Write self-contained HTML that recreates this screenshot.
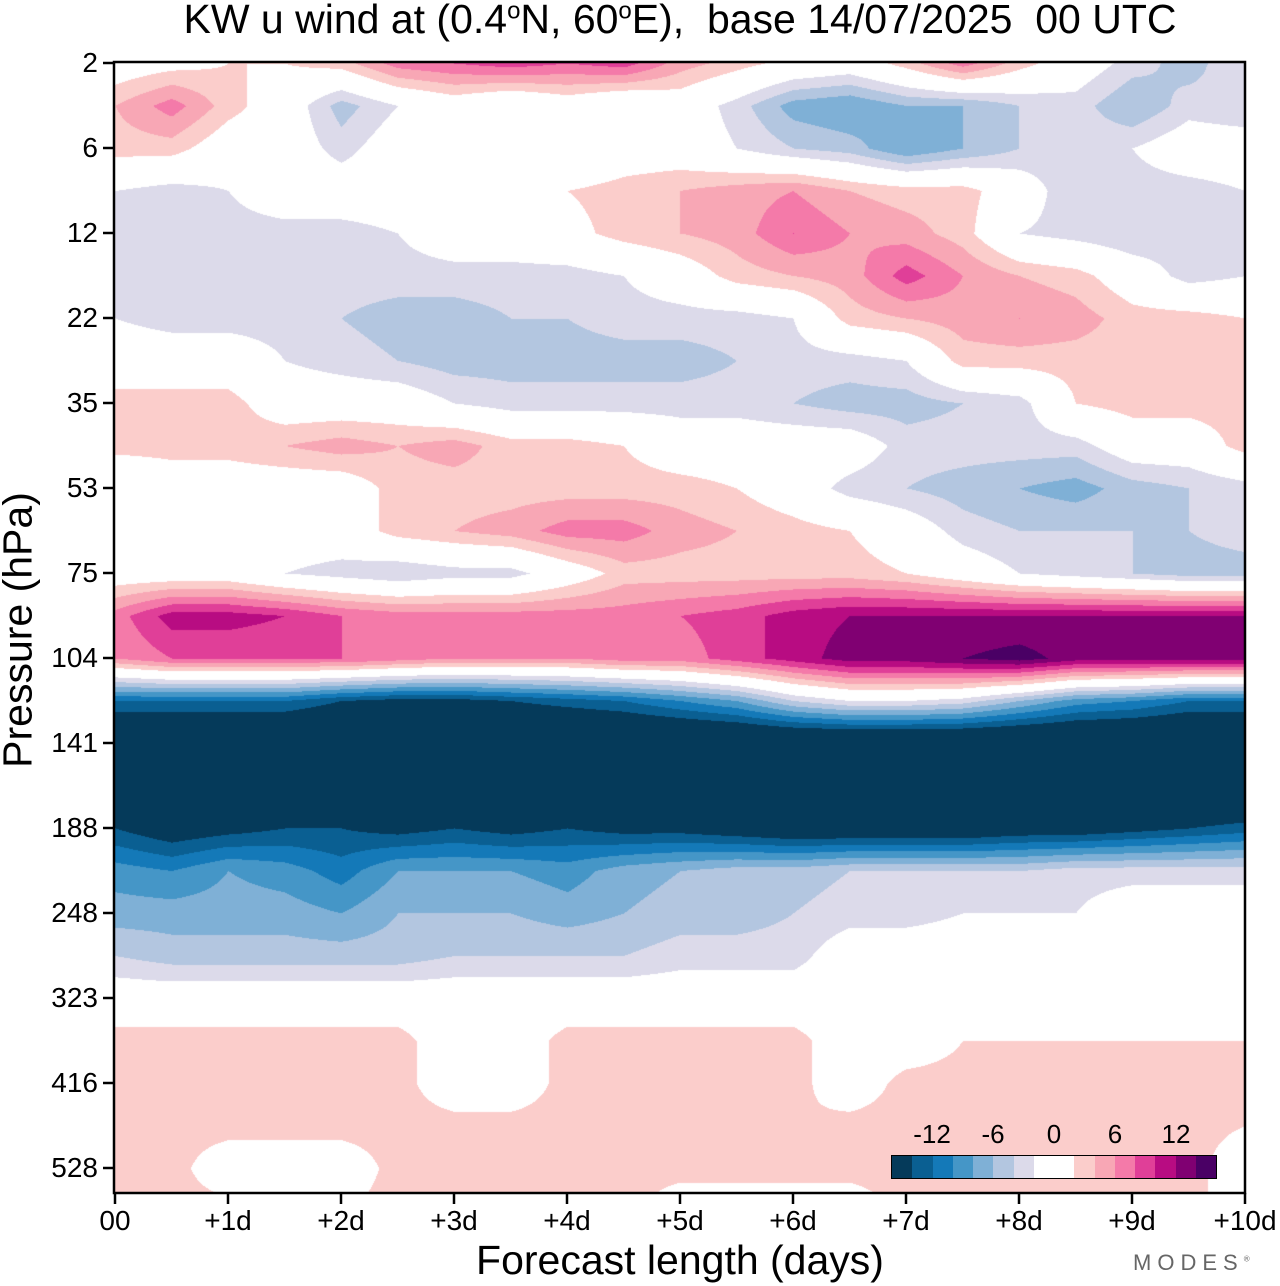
<!DOCTYPE html>
<html><head><meta charset="utf-8">
<style>
body{margin:0;background:#fff;width:1280px;height:1286px;position:relative;overflow:hidden;font-family:"Liberation Sans",sans-serif;}
.t{position:absolute;color:#000;white-space:nowrap;}
.yl{position:absolute;font-size:28px;right:1182px;transform:translateY(-50%);}
.xl{position:absolute;font-size:28px;top:1205px;transform:translateX(-50%);}
</style></head><body>
<div class="t" style="left:0;width:1360px;text-align:center;top:-4px;font-size:41px;">KW u wind at (0.4<sup style="font-size:24px">o</sup>N, 60<sup style="font-size:24px">o</sup>E),&nbsp; base 14/07/2025&nbsp; 00 UTC</div>
<canvas id="c" width="1131" height="1131" style="position:absolute;left:114px;top:62px"></canvas>
<svg id="ax" width="1280" height="1286" style="position:absolute;left:0;top:0"></svg>
<div id="labels"></div>
<div class="t" style="left:18px;top:630px;font-size:41px;transform:translate(-50%,-50%) rotate(-90deg);transform-origin:center;">Pressure (hPa)</div>
<div class="t" style="left:680px;top:1237px;font-size:41px;transform:translateX(-50%);">Forecast length (days)</div>
<div class="t" style="left:1133px;top:1250px;font-size:22px;letter-spacing:6px;color:#666;">MODES<sup style="font-size:8px;letter-spacing:0">®</sup></div>
<div style="position:absolute;left:891px;top:1155px;width:324px;height:22px;border:1.5px solid #000;display:flex;" id="cb"></div>
<div class="t" style="left:932px;top:1119px;font-size:26px;transform:translateX(-50%)">-12</div>
<div class="t" style="left:993px;top:1119px;font-size:26px;transform:translateX(-50%)">-6</div>
<div class="t" style="left:1054px;top:1119px;font-size:26px;transform:translateX(-50%)">0</div>
<div class="t" style="left:1115px;top:1119px;font-size:26px;transform:translateX(-50%)">6</div>
<div class="t" style="left:1176px;top:1119px;font-size:26px;transform:translateX(-50%)">12</div>
<script>
const xTicks=["00","+1d","+2d","+3d","+4d","+5d","+6d","+7d","+8d","+9d","+10d"];
const yTicks=["2","6","12","22","35","53","75","104","141","188","248","323","416","528"];
const levels=[-16,-14,-12,-10,-8,-6,-4,-2,0,2,4,6,8,10,12,14,16];
const colors=["#053a5a","#0a5f92","#1479b8","#4596c7","#7fb0d6","#b3c6e0","#dcdaea","#ffffff","#ffffff","#fbcdcb","#f8a7b5","#f47aa9","#e03f98","#b80c82","#800072","#4a0065"];
// rows: half-tick spacing from top (2 hPa) down; columns: every half day
const u=[
[0,1,2,2,3,7,8,9,8,9,5,3,1,0,3,7,3,0,-3,-5,-2],
[4,7,3,0,-5,-2,0,-2,0,-2,0,-3,-7,-8,-6,-6,-4,-3,-6,-3,-4],
[3,3,0,0,-3,0,-2,0,-2,0,0,-2,-4,-5,-8,-6,-4,-3,-2,0,0],
[-2,-3,-2,0,0,0,0,0,2,3,4,5,6,4,3,3,0,-4,-3,-3,-2],
[-4,-4,-3,-3,-3,-2,0,0,1,3,4,5,8,6,5,3,-2,-3,-4,-3,-2],
[-3,-3,-3,-3,-3,-3,-3,-3,-3,-2,0,3,4,5,9,6,4,3,0,-3,-2],
[-2,-3,-3,-3,-4,-5,-5,-4,-4,-3,-3,-3,-2,3,4,5,6,5,3,3,2],
[0,0,0,-2,-3,-4,-5,-5,-5,-5,-5,-4,-3,-3,-2,3,3,3,3,3,3],
[3,3,3,0,0,0,-2,-3,-3,-3,-3,-3,-4,-5,-5,-4,-3,2,3,3,3],
[3,3,3,4,5,4,5,3,3,2,0,0,0,0,-3,-3,-3,-3,0,0,3],
[-2,0,0,0,0,3,3,3,3,3,3,2,0,-3,-4,-5,-6,-7,-5,-4,-3],
[0,0,-2,0,0,3,4,5,7,7,5,4,3,2,0,-3,-4,-4,-4,-4,-3],
[0,0,0,-2,-3,-4,-3,-3,0,3,3,3,3,3,2,0,-2,-3,-4,-5,-5],
[7,11,11,10,8,7,7,7,7,7,8,9,11,12,12,12,12,12,12,12,12],
[6,8,8,8,8,7,6,6,6,7,7,9,11,13,13,14,15,13,13,13,13],
[-12,-12,-12,-12,-14,-15,-15,-14,-13,-12,-10,-8,-4,-2,-2,-3,-6,-9,-10,-12,-12],
[-20,-20,-20,-20,-20,-20,-20,-20,-20,-20,-20,-20,-20,-20,-20,-20,-20,-20,-20,-20,-20],
[-20,-20,-20,-20,-20,-20,-20,-20,-20,-20,-20,-20,-20,-20,-20,-20,-20,-20,-20,-20,-20],
[-14,-16,-15,-14,-14,-15,-14,-15,-14,-15,-15,-16,-17,-17,-17,-17,-16,-16,-15,-14,-13],
[-9,-10,-8,-9,-11,-8,-8,-8,-9,-7,-6,-5,-5,-4,-4,-4,-4,-3,-3,-3,-3],
[-7,-7,-7,-7,-8,-6,-6,-6,-7,-6,-5,-5,-4,-3,-3,-2,-2,-2,0,0,0],
[-4,-5,-5,-5,-5,-5,-4,-4,-4,-4,-3,-3,-3,0,0,0,0,0,0,0,0],
[0,0,0,0,0,0,0,0,0,0,0,0,0,0,0,0,0,0,0,0,0],
[3,3,3,3,3,3,0,0,3,3,3,3,3,0,0,2,2,2,2,2,2],
[3,3,3,3,3,3,0,0,3,3,3,3,3,0,3,3,3,3,3,3,3],
[3,3,3,3,3,3,3,3,3,3,3,3,2,3,3,3,3,3,3,3,2],
[3,3,0,0,0,3,3,3,3,3,3,3,3,3,3,3,3,3,3,3,0],
[3,3,3,3,2,3,3,3,3,3,0,0,0,0,3,3,3,3,3,3,0]
];
const X0=115,X1=1245,Y0=63,TICK=85;
const xs=d=>X0+(X1-X0)*d/10;
const ys=r=>Y0+r*TICK/2;
function hex(h){return [1,3,5].map(i=>parseInt(h.substr(i,2),16));}
const rgb=colors.map(hex);
function bin(v){for(let i=1;i<levels.length;i++){if(v<levels[i])return i-1;}return colors.length-1;}
const cv=document.getElementById('c'),ctx=cv.getContext('2d');
const W=cv.width,H=cv.height,img=ctx.createImageData(W,H);
const nr=u.length,nc=u[0].length;
for(let py=0;py<H;py++){
  const Y=62+py;
  let r=(Y-Y0)/(TICK/2); r=Math.max(0,Math.min(nr-1.0001,r));
  const r0=Math.floor(r),fr=r-r0;
  for(let px=0;px<W;px++){
    const X=114+px;
    let c=(X-X0)/(xs(0.5)-X0); c=Math.max(0,Math.min(nc-1.0001,c));
    const c0=Math.floor(c),fc=c-c0;
    const v=u[r0][c0]*(1-fr)*(1-fc)+u[r0][c0+1]*(1-fr)*fc+u[r0+1][c0]*fr*(1-fc)+u[r0+1][c0+1]*fr*fc;
    const col=rgb[Math.max(0,bin(v))],k=(py*W+px)*4;
    img.data[k]=col[0];img.data[k+1]=col[1];img.data[k+2]=col[2];img.data[k+3]=255;
  }
}
ctx.putImageData(img,0,0);
const cb=document.getElementById('cb');
colors.forEach(c=>{const s=document.createElement('div');


s.style.cssText='flex:1;background:'+c;cb.appendChild(s);});
const NS='http://www.w3.org/2000/svg',ax=document.getElementById('ax');
function el(t,a){const e=document.createElementNS(NS,t);for(const k in a)e.setAttribute(k,a[k]);ax.appendChild(e);return e;}
const fr=el('rect',{x:114,y:62,width:1131,height:1131,fill:'none',stroke:'#000','stroke-width':2.5});


const L=document.getElementById('labels');
yTicks.forEach((t,i)=>{const y=Y0+i*TICK;
 const tk=el('line',{x1:103,x2:114,y1:y,y2:y,stroke:'#000','stroke-width':2.5});
 
 
 const d=document.createElement('div');d.className='yl';d.style.top=y+'px';d.textContent=t;
 
 
 L.appendChild(d);});
xTicks.forEach((t,i)=>{const x=xs(i);
 const tk=el('line',{x1:x,x2:x,y1:1193,y2:1204,stroke:'#000','stroke-width':2.5});
 
 
 const d=document.createElement('div');d.className='xl';d.style.left=x+'px';d.textContent=t;
 
 
 L.appendChild(d);});
</script>
</body></html>
